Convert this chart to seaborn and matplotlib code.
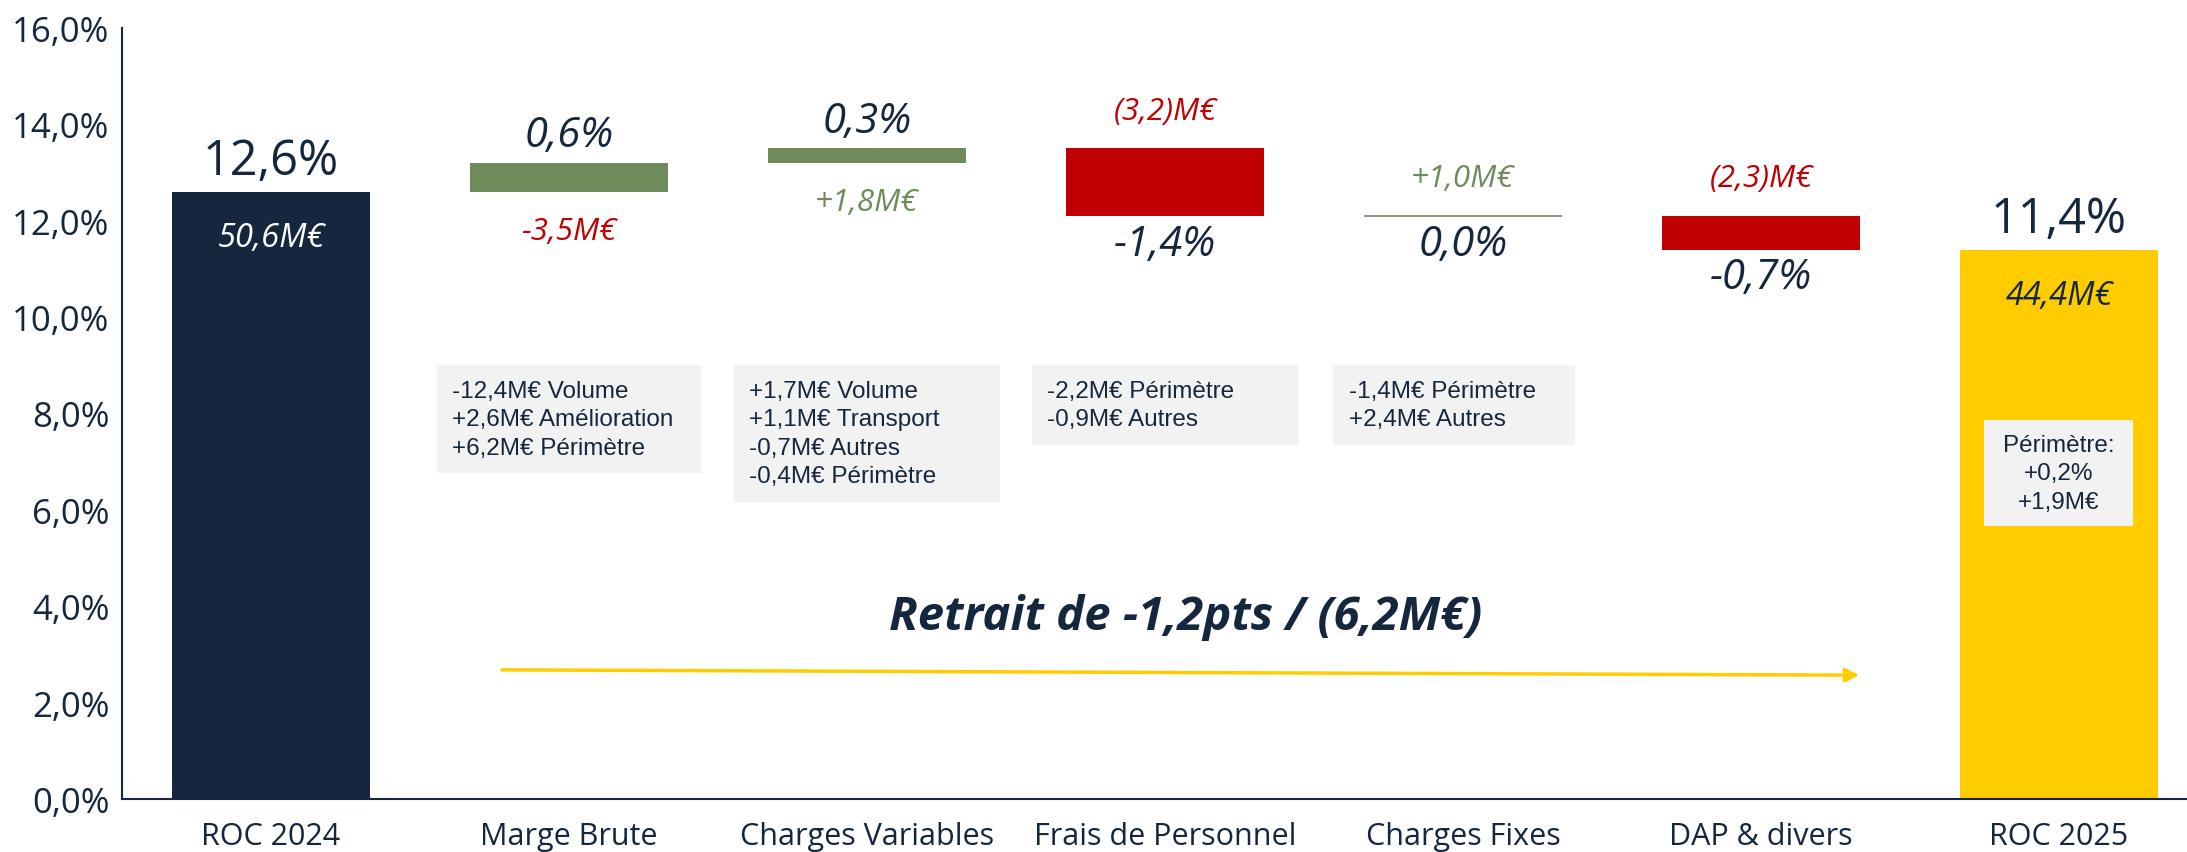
import numpy as np
import matplotlib
matplotlib.use("Agg")
import matplotlib.pyplot as plt
from matplotlib.patches import Rectangle
from matplotlib.ticker import FuncFormatter, FixedLocator
import seaborn as sns

# data
categories = ["ROC 2024", "Marge Brute", "Charges Variables", "Frais de Personnel",
              "Charges Fixes", "DAP & divers", "ROC 2025"]
roc_2024 = 12.6
deltas = [0.6, 0.3, -1.4, 0.0, -0.7]
roc_2025 = 11.4
pct_labels = ["12,6%", "0,6%", "0,3%", "-1,4%", "0,0%", "-0,7%", "11,4%"]
meur_labels = ["50,6M€", "-3,5M€", "+1,8M€", "(3,2)M€", "+1,0M€", "(2,3)M€", "44,4M€"]
meur_sign = [0, -1, 1, -1, 1, -1, 0]
detail_lines = [
    ["-12,4M€ Volume", "+2,6M€ Amélioration", "+6,2M€ Périmètre"],
    ["+1,7M€ Volume", "+1,1M€ Transport", "-0,7M€ Autres", "-0,4M€ Périmètre"],
    ["-2,2M€ Périmètre", "-0,9M€ Autres"],
    ["-1,4M€ Périmètre", "+2,4M€ Autres"],
]
perimetre_2025 = ["Périmètre:", "+0,2%", "+1,9M€"]
title_text = "Retrait de -1,2pts / (6,2M€)"

NAVY = "#14273E"
GREEN = "#6E8B5A"
RED = "#C00000"
YELLOW = "#FFCC00"
BOX = "#F2F2F2"

# waterfall geometry
bottoms, heights = [0.0], [roc_2024]
level = roc_2024
for d in deltas:
    bottoms.append(min(level, level + d))
    heights.append(abs(d))
    level += d
bottoms.append(0.0)
heights.append(roc_2025)
colors = [NAVY] + [GREEN if d >= 0 else RED for d in deltas] + [YELLOW]

sns.set_style("white")
plt.rcParams["font.family"] = ["Open Sans", "DejaVu Sans"]

fig = plt.figure(figsize=(21.87, 8.53), dpi=100)
ax = fig.add_axes([122 / 2187, 53 / 853, 2065 / 2187, 771 / 853])

sns.barplot(x=categories, y=heights, bottom=bottoms, width=0.664, errorbar=None,
            color=NAVY, saturation=1, ax=ax)
for p, c, h in zip(ax.patches, colors, heights):
    p.set_facecolor(c)
    if h == 0:
        p.set_edgecolor(GREEN)
        p.set_linewidth(1.2)
    else:
        p.set_edgecolor("none")
        p.set_linewidth(0)

ax.set_xlim(-0.5, -0.5 + 2065 / 298)
ax.set_ylim(0, 16)

# axes styling
for s in ["top", "right"]:
    ax.spines[s].set_visible(False)
for s in ["left", "bottom"]:
    ax.spines[s].set_color(NAVY)
    ax.spines[s].set_linewidth(1.5)
ax.set_yticks(np.arange(0, 17, 2))
ax.yaxis.set_major_formatter(FuncFormatter(lambda v, _: f"{v:.1f}%".replace(".", ",")))
ax.tick_params(axis="y", direction="inout", length=10, width=1.5, color=NAVY,
               labelsize=25, labelcolor=NAVY, pad=4)
ax.tick_params(axis="x", which="major", length=0, labelsize=22, labelcolor=NAVY, pad=16)
ax.xaxis.set_minor_locator(FixedLocator(np.arange(0.5, 6, 1)))
ax.tick_params(axis="x", which="minor", direction="inout", length=10, width=1.2, color=NAVY)
ax.set_xlabel("")
ax.set_ylabel("")

# value labels
tops = [b + h for b, h in zip(bottoms, heights)]
for i in (0, 6):
    ax.annotate(pct_labels[i], (i, tops[i]), xytext=(0, 22), textcoords="offset points",
                ha="center", va="center", fontsize=35, color=NAVY)
    ax.annotate(meur_labels[i], (i, tops[i]), xytext=(0, -33), textcoords="offset points",
                ha="center", va="center", fontsize=23.5, style="italic",
                color="white" if i == 0 else NAVY)

for k, d in enumerate(deltas):
    i = k + 1
    up, down = tops[i], bottoms[i]
    mcol = GREEN if meur_sign[i] > 0 else RED
    if d > 0:
        ax.annotate(pct_labels[i], (i, up), xytext=(0, 20), textcoords="offset points",
                    ha="center", va="center", fontsize=30, style="italic", color=NAVY)
        ax.annotate(meur_labels[i], (i, down), xytext=(0, -28), textcoords="offset points",
                    ha="center", va="center", fontsize=22.5, style="italic", color=mcol)
    else:
        ax.annotate(meur_labels[i], (i, up), xytext=(0, 27), textcoords="offset points",
                    ha="center", va="center", fontsize=22.5, style="italic", color=mcol)
        ax.annotate(pct_labels[i], (i, down), xytext=(0, -20), textcoords="offset points",
                    ha="center", va="center", fontsize=30, style="italic", color=NAVY)

# detail boxes under the delta bars
line_h = 0.593
box_top = 9.0
box_specs = [(1, 0.886), (2, 0.893), (3, 0.893), (3.97, 0.81)]
for (cx, w), lines in zip(box_specs, detail_lines):
    h = len(lines) * line_h + 0.46
    ax.add_patch(Rectangle((cx - w / 2, box_top - h), w, h, facecolor=BOX,
                           edgecolor="none", zorder=3))
    for j, txt in enumerate(lines):
        ax.annotate(txt, (cx - w / 2, box_top - 0.23 - (j + 0.5) * line_h),
                    xytext=(11, 0), textcoords="offset points", ha="left", va="center",
                    fontsize=17.5, family="Liberation Sans", color=NAVY, zorder=4)

# perimetre box inside ROC 2025 bar
h5 = len(perimetre_2025) * line_h + 0.42
top5 = 7.86
ax.add_patch(Rectangle((6 - 0.25, top5 - h5), 0.5, h5, facecolor=BOX,
                       edgecolor="none", zorder=3))
for j, txt in enumerate(perimetre_2025):
    ax.text(6, top5 - 0.21 - (j + 0.5) * line_h, txt, ha="center", va="center",
            fontsize=17.5, family="Liberation Sans", color=NAVY, zorder=4)

# headline and arrow
ax.text(3.07, 3.78, title_text, ha="center", va="center", fontsize=34,
        fontweight="bold", style="italic", color=NAVY)
ax.annotate("", xy=(5.33, 2.57), xytext=(0.775, 2.68),
            arrowprops=dict(arrowstyle="-|>", color=YELLOW, lw=2.5, mutation_scale=20,
                            shrinkA=0, shrinkB=0))

fig.savefig("out.png", dpi=100)
